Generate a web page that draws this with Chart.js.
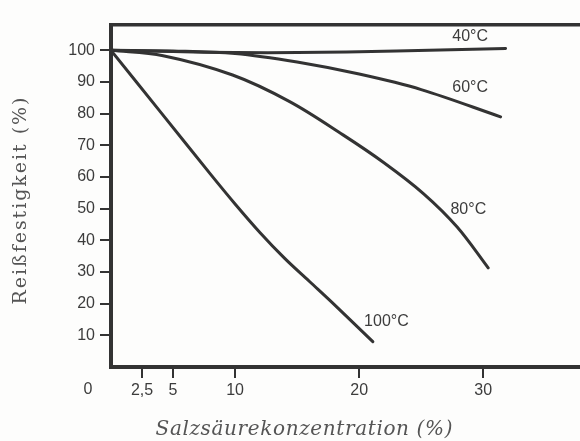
<!DOCTYPE html>
<html>
<head>
<meta charset="utf-8">
<script src="https://cdn.jsdelivr.net/npm/chart.js@4/dist/chart.umd.min.js"></script>
<style>
  html, body { margin: 0; padding: 0; background: #fdfdfc; }
  #wrap { width: 580px; height: 441px; }
</style>
</head>
<body>
<div id="wrap"><canvas id="c" width="580" height="441"></canvas></div>
<script>
// ---- data ----
const seriesNames = ['40°C', '60°C', '80°C', '100°C'];

const conc40 = [0, 5, 10, 15, 23, 31.8];
const strength40 = [100, 99.6, 99.3, 99.3, 99.8, 100.6];

const conc60 = [0, 5, 10, 15, 20, 25, 31.4];
const strength60 = [100, 99.8, 99, 96.3, 92.5, 87.6, 79];

const conc80 = [0, 4.2, 9.8, 14.4, 18.7, 22, 25.2, 27.9, 30.4];
const strength80 = [100, 98.3, 92.2, 83.8, 73.3, 64.5, 54.7, 44.2, 31.3];

const conc100 = [0, 4, 8, 10, 12, 14, 16, 18, 21.1];
const strength100 = [100, 80.5, 61, 51.5, 42.5, 34.3, 27, 19.7, 8];

const xTickValues = [2.5, 5, 10, 20, 30];
const xTickLabels = ['2,5', '5', '10', '20', '30'];
const yTickValues = [10, 20, 30, 40, 50, 60, 70, 80, 90, 100];

const xTitle = 'Salzsäurekonzentration (%)';
const yTitle = 'Reißfestigkeit (%)';
const originLabel = '0';

// label anchor points (data units) for curve names
const labelX = [28.95, 28.95, 28.8, 22.2];
const labelY = [104.2, 88.1, 49.6, 14.2];

// ---- build ----
const ink = '#333333';
const textInk = '#3c3c3c';
const titleInk = '#555555';

function pts(xs, ys) { return xs.map((x, i) => ({ x: x, y: ys[i] })); }

const allX = [conc40, conc60, conc80, conc100];
const allY = [strength40, strength60, strength80, strength100];

const datasets = seriesNames.map((n, i) => ({
  label: n,
  data: pts(allX[i], allY[i]),
  borderColor: ink,
  borderWidth: 3,
  pointRadius: 0,
  fill: false,
  tension: 0.35,
  borderCapStyle: 'round',
  borderJoinStyle: 'round'
}));

function spacedText(ctx, text, x, y, targetWidth) {
  ctx.letterSpacing = '0px';
  const w = ctx.measureText(text).width;
  const sp = Math.max(0, (targetWidth - w) / (text.length - 1));
  ctx.letterSpacing = sp.toFixed(2) + 'px';
  ctx.fillText(text, x + sp / 2, y);
  ctx.letterSpacing = '0px';
}

const extraText = {
  id: 'extraText',
  afterDraw(chart) {
    const ctx = chart.ctx;
    const xs = chart.scales.x, ys = chart.scales.y;
    ctx.save();
    ctx.fillStyle = textInk;
    ctx.textAlign = 'center';
    ctx.textBaseline = 'middle';
    ctx.font = '16px "Liberation Sans", Arial, sans-serif';
    seriesNames.forEach((n, i) => {
      ctx.fillText(n, xs.getPixelForValue(labelX[i]), ys.getPixelForValue(labelY[i]));
    });
    // origin label
    ctx.fillText(originLabel, xs.getPixelForValue(0) - 23, ys.bottom + 23);
    // x title
    ctx.fillStyle = titleInk;
    ctx.font = 'italic 20px "DejaVu Serif", "Liberation Serif", serif';
    spacedText(ctx, xTitle, 304, 430, 297);
    // y title (rotated)
    ctx.save();
    ctx.translate(21, 201);
    ctx.rotate(-Math.PI / 2);
    ctx.font = '19px "DejaVu Serif", "Liberation Serif", serif';
    spacedText(ctx, yTitle, 0, 0, 207);
    ctx.restore();
    ctx.restore();
  }
};

new Chart(document.getElementById('c'), {
  type: 'line',
  data: { datasets: datasets },
  options: {
    responsive: false,
    animation: false,
    devicePixelRatio: 1,
    layout: { padding: { top: 25, left: 0, right: 0, bottom: 0 } },
    plugins: { legend: { display: false }, tooltip: { enabled: false } },
    scales: {
      x: {
        type: 'linear',
        position: 'bottom',
        min: 0,
        max: 37.8,
        afterFit(s) { s.height = 74; },
        afterBuildTicks(s) { s.ticks = xTickValues.map(v => ({ value: v })); },
        ticks: {
          autoSkip: false,
          maxRotation: 0,
          padding: 3,
          color: textInk,
          font: { family: '"Liberation Sans", Arial, sans-serif', size: 16 },
          callback(v) { const i = xTickValues.indexOf(v); return i >= 0 ? xTickLabels[i] : ''; }
        },
        grid: { display: true, drawOnChartArea: false, drawTicks: true, tickLength: 11, color: ink, lineWidth: 2 },
        border: { display: true, color: ink, width: 4 }
      },
      x2: {
        type: 'linear',
        position: 'top',
        min: 0,
        max: 37.8,
        afterFit(s) { s.height = 0; },
        ticks: { display: false },
        grid: { display: false },
        border: { display: true, color: ink, width: 3.5 }
      },
      y: {
        type: 'linear',
        min: 0,
        max: 108,
        afterFit(s) { s.width = 111; },
        afterBuildTicks(s) { s.ticks = yTickValues.map(v => ({ value: v })); },
        ticks: {
          autoSkip: false,
          padding: 5,
          color: textInk,
          font: { family: '"Liberation Sans", Arial, sans-serif', size: 16 }
        },
        grid: { display: true, drawOnChartArea: false, drawTicks: true, tickLength: 11, color: ink, lineWidth: 2 },
        border: { display: true, color: ink, width: 4 },
        title: { display: false, text: yTitle }
      }
    }
  },
  plugins: [extraText]
});
</script>
</body>
</html>
